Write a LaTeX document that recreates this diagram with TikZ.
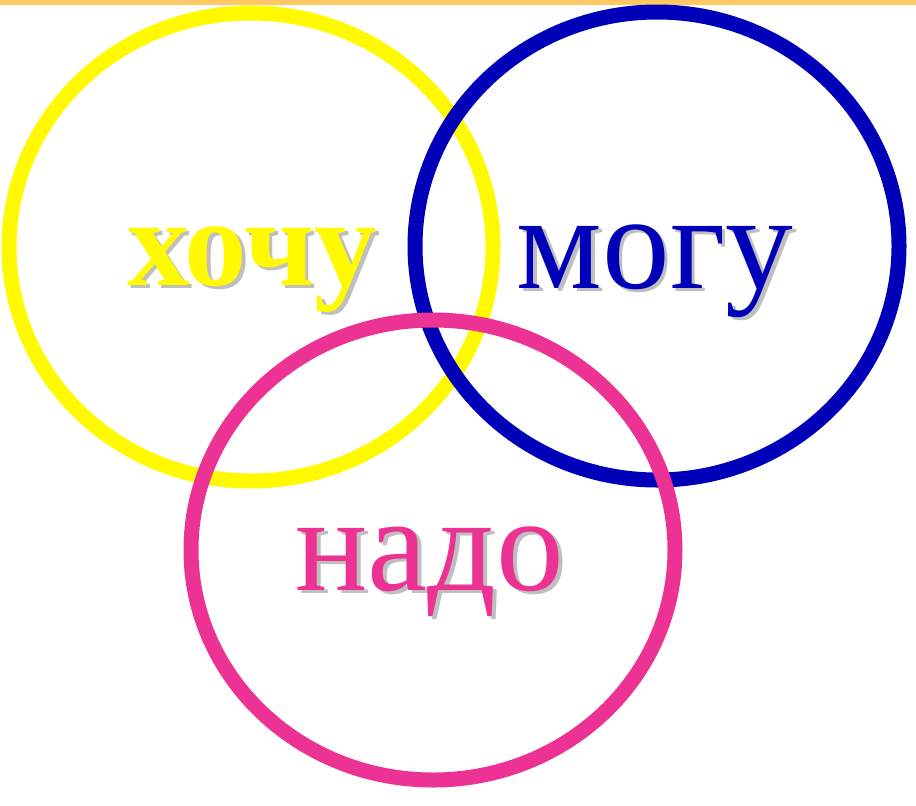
\documentclass[tikz,border=0pt]{standalone}
\usepackage{fontspec}
\setmainfont{Liberation Serif}
\usetikzlibrary{positioning}

\definecolor{ringyellow}{RGB}{255,250,0}
\definecolor{ringblue}{RGB}{0,0,185}
\definecolor{ringpink}{RGB}{236,50,146}
\definecolor{barorange}{RGB}{255,200,100}

% text with a soft grey drop shadow
\newcommand{\shadowword}[1]{\makebox[0pt][l]{\hspace{2pt}\raisebox{-2pt}{\color{black!25}#1}}#1}

\begin{document}
\begin{tikzpicture}[x=0.02cm, y=-0.02cm,
  ring/.style={line width=0.3cm},
  word/.style={anchor=base, inner sep=0pt},
  bigword/.style={word, font=\fontsize{77}{80}\selectfont}
]
\useasboundingbox (0,0) rectangle (916,805);

% top bar
\fill[barorange] (0,0) rectangle (916,5);

% rings
\draw[ring, ringyellow] (251,247) ellipse [x radius=242, y radius=234];
\draw[ring, ringblue] (657,246) ellipse [x radius=242, y radius=234];
\draw[ring, ringpink] (433,550) ellipse [x radius=242, y radius=230];

% words
\node (khochu) [word, font=\fontsize{71}{80}\selectfont\bfseries, text=ringyellow] at (252,285) {\shadowword{хочу}};
\node (mogu) [bigword, text=ringblue] at (655,288) {\shadowword{могу}};
\node (nado) [bigword, text=ringpink] at (430,590) {\shadowword{надо}};

\end{tikzpicture}
\end{document}
